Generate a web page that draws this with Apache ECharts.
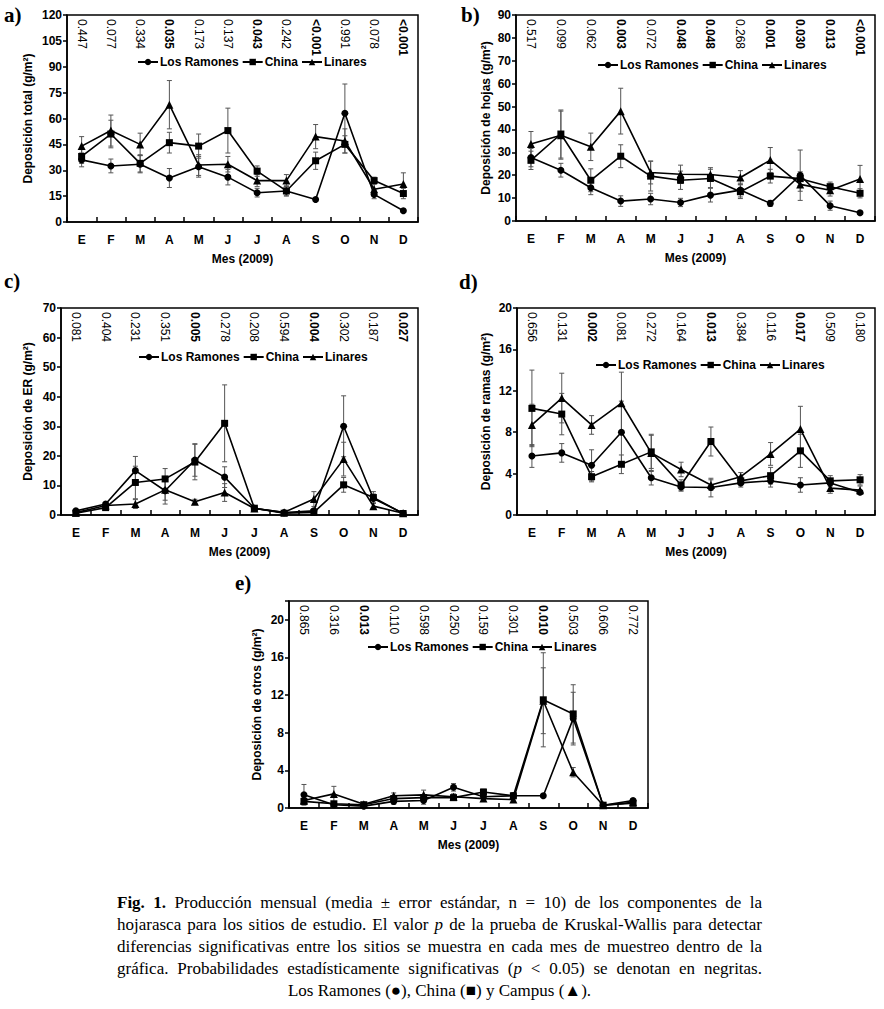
<!DOCTYPE html>
<html>
<head>
<meta charset="utf-8">
<script src="https://cdn.jsdelivr.net/npm/echarts@6/dist/echarts.min.js"></script>
<style>
  html, body { margin: 0; padding: 0; background: #fff; }
  #wrap { position: relative; width: 884px; height: 1009px; overflow: hidden; }
  #chart { position: absolute; left: 0; top: 0; width: 884px; height: 1009px; }
  #caption { position: absolute; left: 117px; top: 892px; width: 645px; font-family: "Liberation Serif", "DejaVu Serif", serif; font-size: 17px; line-height: 22px; color: #000; }
  #caption .ln { white-space: nowrap; text-align: justify; text-align-last: justify; }
  #caption .last { white-space: nowrap; text-align: center; }
</style>
</head>
<body>
<div id="wrap">
  <div id="chart"></div>
  <div id="caption">
    <div class="ln"><b>Fig. 1.</b> Producción mensual (media ± error estándar, n = 10) de los componentes de la</div>
    <div class="ln">hojarasca para los sitios de estudio. El valor <i>p</i> de la prueba de Kruskal-Wallis para detectar</div>
    <div class="ln">diferencias significativas entre los sitios se muestra en cada mes de muestreo dentro de la</div>
    <div class="ln">gráfica. Probabilidades estadísticamente significativas (<i>p</i> &lt; 0.05) se denotan en negritas.</div>
    <div class="last">Los Ramones (●), China (■) y Campus (▲).</div>
  </div>
</div>
<script>
// ---------------- DATA ----------------
const months = ['E','F','M','A','M','J','J','A','S','O','N','D'];
const siteNames = ['Los Ramones','China','Linares'];

// a) Deposición total
const totalLR = [36, 32.5, 33.5, 25.5, 32, 26, 17, 18, 13, 63, 16, 6.5];
const totalCH = [38, 51, 34, 46, 44, 53, 29.5, 18, 35.5, 45, 24, 16.5];
const totalLI = [44, 53, 45, 68, 33, 33.5, 24, 24, 49.5, 47, 19, 22];
const totalLRse = [4, 4, 5, 5.5, 6, 4.5, 2.5, 2.5, 1, 17, 2.5, 1];
const totalCHse = [4, 8, 5, 6, 7, 13, 3, 3, 5, 5, 2, 3];
const totalLIse = [5.5, 9, 6.5, 14, 6, 4.5, 3.5, 3.5, 7, 7, 3, 6.5];
const pTotal = ['0.447','0.077','0.334','0.035','0.173','0.137','0.043','0.242','<0.001','0.991','0.078','<0.001'];

// b) Deposición de hojas
const hojasLR = [27.7, 22.2, 14.5, 8.7, 9.6, 8.1, 11.3, 13.5, 7.7, 20, 6.7, 3.6];
const hojasCH = [26.5, 38, 17.8, 28.3, 19.6, 17.8, 18.6, 12.8, 19.6, 18.5, 15, 12.1];
const hojasLI = [33.6, 37.5, 32.4, 48, 21.2, 20.4, 20.3, 19, 26.6, 16, 13.4, 18.3];
const hojasLRse = [4, 3, 3, 2.3, 2.5, 1.8, 3, 3, 1.3, 11, 2, 0.8];
const hojasCHse = [4, 10.5, 5, 5, 6.5, 4, 4, 3, 3, 3, 2, 2];
const hojasLIse = [5.5, 10.5, 6, 10, 5, 4, 3, 3, 5.5, 3, 2.5, 6];
const pHojas = ['0.517','0.099','0.062','0.003','0.072','0.048','0.048','0.268','0.001','0.030','0.013','<0.001'];

// c) Deposición de ER
const erLR = [1.4, 3.7, 15, 8.2, 18.6, 12.8, 2.3, 0.8, 1.4, 30, 5.6, 0.6];
const erCH = [0.6, 2.5, 11, 12.2, 17.9, 31, 2.3, 0.6, 0.9, 10.2, 5.9, 0.5];
const erLI = [0.8, 3.2, 3.7, 8.5, 4.5, 7.6, 2.2, 0.9, 5.4, 18.9, 3, 0.6];
const erLRse = [0.3, 0.5, 4.8, 4.5, 5.5, 3.5, 0.5, 0.3, 0.8, 10.3, 1.5, 0.3];
const erCHse = [0.2, 0.5, 5.5, 3.5, 6, 13, 0.5, 0.3, 0.5, 2.5, 2, 0.3];
const erLIse = [0.3, 1, 1.5, 3.5, 0.8, 3, 0.5, 0.3, 2.5, 5.7, 1, 0.3];
const pER = ['0.081','0.404','0.231','0.351','0.005','0.278','0.208','0.594','0.004','0.302','0.187','0.027'];

// d) Deposición de ramas
const ramasLR = [5.7, 6.0, 4.8, 8.0, 3.6, 2.7, 2.65, 3.1, 3.3, 2.9, 3.1, 2.2];
const ramasCH = [10.3, 9.75, 3.7, 4.9, 6.1, 2.9, 7.1, 3.3, 3.8, 6.2, 3.3, 3.4];
const ramasLI = [8.7, 11.3, 8.7, 10.8, 6.0, 4.4, 2.9, 3.7, 5.9, 8.3, 2.6, 2.4];
const ramasLRse = [1.1, 0.9, 1.5, 3, 0.7, 0.4, 0.9, 0.4, 0.6, 0.7, 0.2, 0.2];
const ramasCHse = [3.7, 2, 0.5, 0.9, 1.6, 0.5, 1.4, 0.4, 0.8, 1.6, 0.5, 0.5];
const ramasLIse = [2, 2.4, 0.9, 3, 1.8, 0.7, 0.5, 0.4, 1.1, 2.2, 0.5, 0.4];
const pRamas = ['0.656','0.131','0.002','0.081','0.272','0.164','0.013','0.384','0.116','0.017','0.509','0.180'];

// e) Deposición de otros
const otrosLR = [1.4, 0.35, 0.2, 0.7, 0.8, 2.2, 1.2, 1.3, 1.3, 9.5, 0.3, 0.8];
const otrosCH = [0.7, 0.45, 0.35, 1.0, 1.1, 1.1, 1.7, 1.3, 11.5, 10, 0.3, 0.5];
const otrosLI = [0.8, 1.5, 0.4, 1.3, 1.4, 1.2, 1.0, 0.9, 11.4, 3.8, 0.3, 0.6];
const otrosLRse = [1.1, 0.2, 0.1, 0.3, 0.4, 0.4, 0.3, 0.3, 0.2, 2.8, 0.1, 0.2];
const otrosCHse = [0.3, 0.2, 0.1, 0.3, 0.3, 0.3, 0.3, 0.3, 5, 3.1, 0.1, 0.1];
const otrosLIse = [0.3, 0.8, 0.1, 0.3, 0.5, 0.3, 0.3, 0.3, 3.5, 0.5, 0.1, 0.1];
const pOtros = ['0.865','0.316','0.013','0.110','0.598','0.250','0.159','0.301','0.010','0.503','0.606','0.772'];

// ---------------- LAYOUT ----------------
const FONT = '"Liberation Sans", Arial, sans-serif';
const panels = [
  { label: 'a)', lx: 4, ly: 4, grid: { left: 67, top: 15, width: 351, height: 207 }, max: 120, interval: 15,
    yName: 'Deposición total (g/m²)', nameGap: 33, legend: { left: 137, top: 56 }, pvals: pTotal,
    means: [totalLR, totalCH, totalLI], errs: [totalLRse, totalCHse, totalLIse] },
  { label: 'b)', lx: 461, ly: 4, grid: { left: 516, top: 15, width: 359, height: 206 }, max: 90, interval: 10,
    yName: 'Deposición de hojas (g/m²)', nameGap: 24, legend: { left: 597, top: 59 }, pvals: pHojas,
    means: [hojasLR, hojasCH, hojasLI], errs: [hojasLRse, hojasCHse, hojasLIse] },
  { label: 'c)', lx: 4, ly: 270, grid: { left: 61, top: 308, width: 357, height: 207 }, max: 70, interval: 10,
    yName: 'Deposición de ER (g/m²)', nameGap: 27, legend: { left: 138, top: 351 }, pvals: pER,
    means: [erLR, erCH, erLI], errs: [erLRse, erCHse, erLIse] },
  { label: 'd)', lx: 459, ly: 271, grid: { left: 517, top: 308, width: 358, height: 207 }, max: 20, interval: 4,
    yName: 'Deposición de ramas (g/m²)', nameGap: 25, legend: { left: 595, top: 359 }, pvals: pRamas,
    means: [ramasLR, ramasCH, ramasLI], errs: [ramasLRse, ramasCHse, ramasLIse] },
  { label: 'e)', lx: 235, ly: 572, grid: { left: 289, top: 601, width: 359, height: 207 }, max: 22, interval: 4,
    yName: 'Deposición de otros (g/m²)', nameGap: 26, legend: { left: 367, top: 641 }, pvals: pOtros,
    means: [otrosLR, otrosCH, otrosLI], errs: [otrosLRse, otrosCHse, otrosLIse] }
];
const symbols = ['circle', 'rect', 'triangle'];
const symbolSizes = [7, 7, 8];

function isSig(p) {
  if (p.charAt(0) === '<') return true;
  return parseFloat(p) < 0.05;
}

const grids = [], xAxes = [], yAxes = [], series = [], legends = [], graphics = [];

panels.forEach((pn, k) => {
  grids.push(Object.assign({ show: true, borderColor: '#000', borderWidth: 1.5, backgroundColor: 'transparent' }, pn.grid));
  xAxes.push({
    type: 'category', gridIndex: k, data: months, boundaryGap: true, position: 'bottom',
    axisLine: { show: true, lineStyle: { color: '#000', width: 1.5 } },
    axisTick: { show: true, inside: true, length: 5, lineStyle: { color: '#000', width: 1.5 } },
    axisLabel: { color: '#000', fontFamily: FONT, fontWeight: 'bold', fontSize: 12, margin: 12, interval: 0 },
    name: 'Mes (2009)', nameLocation: 'middle', nameGap: 31,
    nameTextStyle: { color: '#000', fontFamily: FONT, fontWeight: 'bold', fontSize: 12 }
  });
  xAxes.push({
    type: 'category', gridIndex: k, data: pn.pvals, boundaryGap: true, position: 'top',
    axisLine: { show: false }, axisTick: { show: false },
    axisLabel: {
      inside: true, rotate: 90, margin: 4, interval: 0, color: '#000', fontFamily: FONT, fontSize: 12,
      formatter: (v) => isSig(v) ? '{b|' + v + '}' : '{n|' + v + '}',
      rich: { b: { fontWeight: 'bold', fontFamily: FONT, fontSize: 12, color: '#000' },
              n: { fontWeight: 'normal', fontFamily: FONT, fontSize: 12, color: '#000' } }
    }
  });
  yAxes.push({
    type: 'value', gridIndex: k, min: 0, max: pn.max, interval: pn.interval,
    axisLine: { show: true, lineStyle: { color: '#000', width: 1.5 } },
    axisTick: { show: true, inside: false, length: 4, lineStyle: { color: '#000', width: 1.5 } },
    splitLine: { show: false },
    axisLabel: { color: '#000', fontFamily: FONT, fontWeight: 'bold', fontSize: 12, margin: 5,
      formatter: (v) => (v % pn.interval !== 0) ? '' : String(v) },
    name: pn.yName, nameLocation: 'middle', nameGap: pn.nameGap,
    nameTextStyle: { color: '#000', fontFamily: FONT, fontWeight: 'bold', fontSize: 12 }
  });
  const bx = 2 * k;
  siteNames.forEach((nm, s) => {
    series.push({
      type: 'custom', name: 'err-' + k + '-' + s, xAxisIndex: bx, yAxisIndex: k, z: 2, silent: true,
      encode: { x: 0, y: [1, 2] },
      data: pn.means[s].map((m, i) => [i, Math.max(0, m - pn.errs[s][i]), m + pn.errs[s][i]]),
      renderItem: (params, api) => {
        const i = api.value(0);
        const lo = api.coord([i, api.value(1)]);
        const hi = api.coord([i, api.value(2)]);
        const c = 2.5;
        const st = { stroke: '#555', lineWidth: 1, fill: null };
        return { type: 'group', children: [
          { type: 'line', shape: { x1: lo[0], y1: lo[1], x2: hi[0], y2: hi[1] }, style: st },
          { type: 'line', shape: { x1: hi[0] - c, y1: hi[1], x2: hi[0] + c, y2: hi[1] }, style: st },
          { type: 'line', shape: { x1: lo[0] - c, y1: lo[1], x2: lo[0] + c, y2: lo[1] }, style: st }
        ] };
      }
    });
    series.push({
      type: 'line', name: nm, xAxisIndex: bx, yAxisIndex: k, z: 3,
      data: pn.means[s], symbol: symbols[s], symbolSize: symbolSizes[s], showSymbol: true,
      color: '#000', lineStyle: { color: '#000', width: 1.6 }, itemStyle: { color: '#000' },
      emphasis: { disabled: true }
    });
  });
  legends.push({
    data: siteNames, left: pn.legend.left, top: pn.legend.top, orient: 'horizontal',
    itemWidth: 20, itemHeight: 8, itemGap: 3, padding: 0, selectedMode: false,
    textStyle: { color: '#000', fontFamily: FONT, fontWeight: 'bold', fontSize: 12, padding: [0, 0, 0, -3] }
  });
  graphics.push({
    type: 'text', left: pn.lx, top: pn.ly,
    style: { text: pn.label, font: 'bold 21px "Liberation Serif", "DejaVu Serif", serif', fill: '#000' }
  });
});

const chart = echarts.init(document.getElementById('chart'), null, { renderer: 'svg' });
chart.setOption({
  animation: false,
  backgroundColor: '#fff',
  grid: grids,
  xAxis: xAxes,
  yAxis: yAxes,
  legend: legends,
  series: series,
  graphic: graphics
});
</script>
</body>
</html>
